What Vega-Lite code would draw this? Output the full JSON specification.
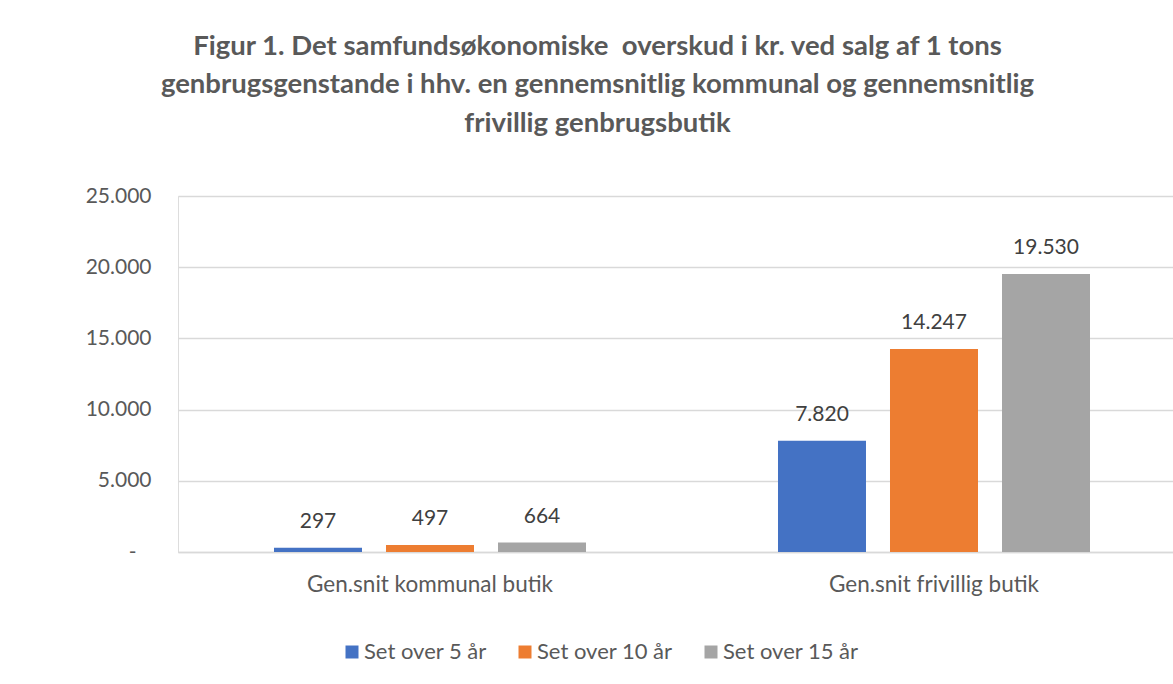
{
  "$schema": "https://vega.github.io/schema/vega-lite/v6.json",
  "autosize": {"type": "none"},
  "padding": {"left": 178, "top": 196, "right": 0, "bottom": 132},
  "width": 995,
  "height": 356,
  "background": "white",
  "title": {
    "text": ["Figur 1. Det samfundsøkonomiske \u00a0overskud i kr. ved salg af 1 tons", "genbrugsgenstande i hhv. en gennemsnitlig kommunal og gennemsnitlig", "frivillig genbrugsbutik"],
    "font": "Lato",
    "fontSize": 27.5,
    "fontWeight": "bold",
    "color": "#595959",
    "lineHeight": 38.5,
    "anchor": "middle",
    "frame": "group",
    "dx": -78,
    "offset": 48
  },
  "data": {
    "values": [
      {"butik": "Gen.snit kommunal butik", "serie": "Set over 5 år", "value": 297},
      {"butik": "Gen.snit kommunal butik", "serie": "Set over 10 år", "value": 497},
      {"butik": "Gen.snit kommunal butik", "serie": "Set over 15 år", "value": 664},
      {"butik": "Gen.snit frivillig butik", "serie": "Set over 5 år", "value": 7820},
      {"butik": "Gen.snit frivillig butik", "serie": "Set over 10 år", "value": 14247},
      {"butik": "Gen.snit frivillig butik", "serie": "Set over 15 år", "value": 19530}
    ]
  },
  "encoding": {
    "x": {
      "field": "butik", "type": "nominal",
      "sort": ["Gen.snit kommunal butik", "Gen.snit frivillig butik"],
      "scale": {"paddingInner": 0.38095, "paddingOuter": 0.17758, "align": 0.5363},
      "axis": {
        "title": null, "labelAngle": 0, "ticks": false, "labelLimit": 0,
        "domainColor": "#D9D9D9", "domainWidth": 1.3,
        "labelFont": "Lato", "labelFontSize": 22.5, "labelColor": "#595959",
        "labelPadding": 21
      }
    },
    "xOffset": {
      "field": "serie", "type": "nominal",
      "sort": ["Set over 5 år", "Set over 10 år", "Set over 15 år"],
      "scale": {"paddingInner": 0.2143, "paddingOuter": 0}
    },
    "y": {
      "field": "value", "type": "quantitative",
      "scale": {"domain": [0, 25000], "nice": false},
      "axis": {
        "title": null, "values": [0, 5000, 10000, 15000, 20000, 25000],
        "ticks": false, "domain": false,
        "gridColor": "#D9D9D9", "gridWidth": 1.3,
        "labelFont": "Lato", "labelFontSize": 21, "labelColor": "#595959",
        "labelPadding": 27,
        "labelExpr": "datum.value == 0 ? '-\u2800' : replace(format(datum.value, ','), ',', '.')"
      }
    }
  },
  "layer": [
    {
      "mark": {"type": "bar"},
      "encoding": {
        "color": {
          "field": "serie", "type": "nominal",
          "sort": ["Set over 5 år", "Set over 10 år", "Set over 15 år"],
          "scale": {"domain": ["Set over 5 år", "Set over 10 år", "Set over 15 år"], "range": ["#4472C4", "#ED7D31", "#A5A5A5"]},
          "legend": {
            "title": null, "orient": "none", "direction": "horizontal",
            "legendX": 163, "legendY": 445,
            "symbolType": "square", "symbolSize": 169, "symbolStrokeWidth": 0,
            "labelFont": "Lato", "labelFontSize": 22, "labelColor": "#595959",
            "labelOffset": 1, "columnPadding": 27
          }
        }
      }
    },
    {
      "mark": {"type": "text", "baseline": "middle", "dy": -26, "font": "Lato", "fontSize": 21, "color": "#404040"},
      "encoding": {
        "text": {"field": "value", "type": "quantitative", "format": ",", "formatType": "number"}
      }
    }
  ],
  "config": {
    "locale": {"number": {"decimal": ",", "thousands": ".", "grouping": [3], "currency": ["", " kr."]}}
  }
}
